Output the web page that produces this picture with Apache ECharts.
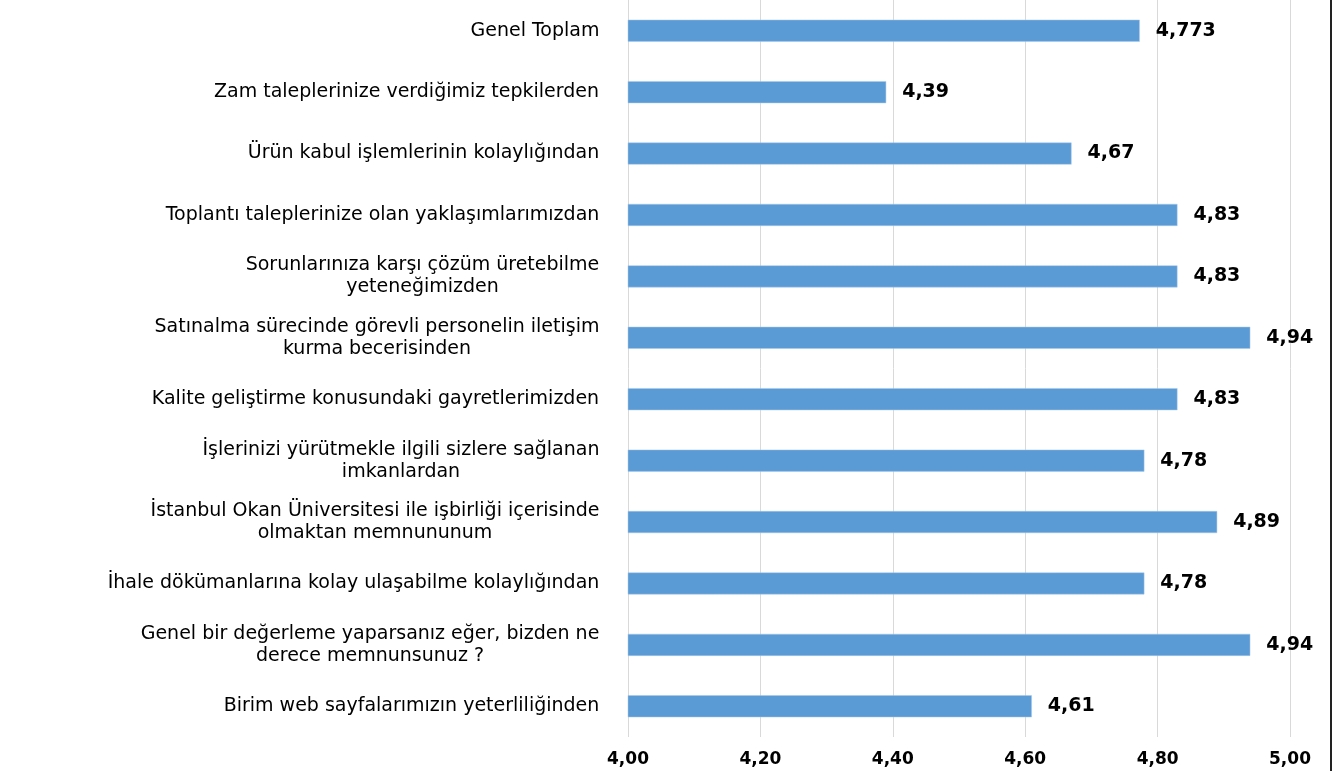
<!DOCTYPE html>
<html>
<head>
<meta charset="utf-8">
<script src="https://cdn.jsdelivr.net/npm/echarts@6/dist/echarts.min.js"></script>
<style>
  html, body { margin: 0; padding: 0; background: #fff; }
  #chart { width: 1343px; height: 771px; }
</style>
</head>
<body>
<div id="chart"></div>
<script>
// top to bottom, as in the picture
const categories = [
  'Genel Toplam',
  'Zam taleplerinize verdiğimiz tepkilerden',
  'Ürün kabul işlemlerinin kolaylığından',
  'Toplantı taleplerinize olan yaklaşımlarımızdan',
  'Sorunlarınıza karşı çözüm üretebilme\nyeteneğimizden',
  'Satınalma sürecinde görevli personelin iletişim\nkurma becerisinden',
  'Kalite geliştirme konusundaki gayretlerimizden',
  'İşlerinizi yürütmekle ilgili sizlere sağlanan\nimkanlardan',
  'İstanbul Okan Üniversitesi ile işbirliği içerisinde\nolmaktan memnununum',
  'İhale dökümanlarına kolay ulaşabilme kolaylığından',
  'Genel bir değerleme yaparsanız eğer, bizden ne\nderece memnunsunuz ?',
  'Birim web sayfalarımızın yeterliliğinden'
]
const scores = [4.773, 4.39, 4.67, 4.83, 4.83, 4.94, 4.83, 4.78, 4.89, 4.78, 4.94, 4.61]
const axisMin = 4.0
const axisMax = 5.0
const axisStep = 0.2

const labelSize = 19
const labelFamily = 'DejaVu Sans'

// centre the lines of two-line labels inside a right-aligned block
const ctx = document.createElement('canvas').getContext('2d')
ctx.font = labelSize + 'px "' + labelFamily + '"'
const rich = {}
categories.forEach((c, i) => {
  const w = Math.max(...c.split('\n').map(l => ctx.measureText(l).width))
  rich['c' + i] = { width: Math.ceil(w) + 1, align: 'center', fontSize: labelSize, fontFamily: labelFamily, color: '#000', lineHeight: 22 }
})

const chart = echarts.init(document.getElementById('chart'))
chart.setOption({
  animation: false,
  grid: { left: 628, right: 53, top: 0, bottom: 34, containLabel: false },
  xAxis: {
    type: 'value',
    min: axisMin,
    max: axisMax,
    interval: axisStep,
    axisLine: { show: false },
    axisTick: { show: false },
    splitLine: { lineStyle: { color: '#d9d9d9', width: 1 } },
    axisLabel: {
      margin: 14,
      color: '#000',
      fontWeight: 'bold',
      fontSize: 17,
      fontFamily: 'DejaVu Sans',
      formatter: v => v.toFixed(2).replace('.', ',')
    }
  },
  yAxis: {
    type: 'category',
    inverse: true,
    data: categories,
    axisLine: { show: false },
    axisTick: { show: false },
    axisLabel: {
      margin: 28,
      align: 'right',
      formatter: (v, i) => v.split('\n').map(l => '{c' + i + '|' + l + '}').join('\n'),
      rich: rich
    }
  },
  series: [{
    type: 'bar',
    data: scores,
    barWidth: 22,
    itemStyle: { color: '#5b9bd5', borderColor: '#a9c8ea', borderWidth: 0.5 },
    label: {
      show: true,
      position: 'right',
      distance: 16,
      color: '#000',
      fontWeight: 'bold',
      fontSize: 19,
      fontFamily: 'DejaVu Sans',
      formatter: p => String(p.value).replace('.', ',')
    }
  }],
  graphic: [{
    type: 'line',
    shape: { x1: 1331, y1: 0, x2: 1331, y2: 771 },
    style: { stroke: '#222', lineWidth: 2 }
  }]
})
</script>
</body>
</html>
